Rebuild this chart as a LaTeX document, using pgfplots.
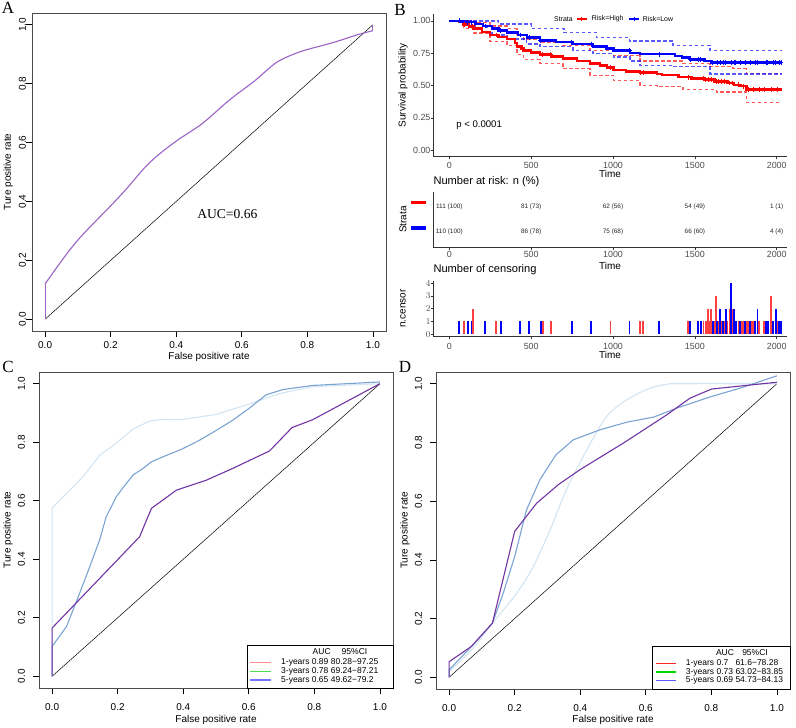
\documentclass[border=0pt]{standalone}
\usepackage{fontspec}
\setmainfont{Liberation Sans}
\newfontfamily\seriffont{Liberation Serif}
\usepackage{pgfplots}
\pgfplotsset{compat=1.18}

\definecolor{rocA}{HTML}{9A62C6}
\definecolor{rocpurple}{HTML}{7234A4}
\definecolor{rocblue}{HTML}{7AA3D3}
\definecolor{rocpale}{HTML}{D3E4F2}
\definecolor{kmred}{HTML}{FF0000}
\definecolor{kmblue}{HTML}{0000FF}
\definecolor{gg}{HTML}{4D4D4D}

\pgfplotsset{
  rocaxis/.style={
    anchor=south west, scale only axis, width=354bp,
    xmin=-0.04, xmax=1.04, ymin=-0.04, ymax=1.04,
    xtick={0,0.2,0.4,0.6,0.8,1}, ytick={0,0.2,0.4,0.6,0.8,1},
    xticklabels={0.0,0.2,0.4,0.6,0.8,1.0}, yticklabels={0.0,0.2,0.4,0.6,0.8,1.0},
    xtick pos=left, ytick pos=left, tick align=outside, major tick length=6bp,
    tick style={black, line width=0.6bp},
    axis line style={black!70, line width=0.7bp},
    ticklabel style={font=\fontsize{10bp}{12bp}\selectfont, inner sep=0pt},
    label style={font=\fontsize{10bp}{12bp}\selectfont, inner sep=0pt},
    xlabel={False positive rate}, ylabel={Ture positive rate},
  },
  kmaxis/.style={
    anchor=south west, scale only axis, width=353.4bp, xmin=-98, xmax=2061,
    axis x line*=bottom, axis y line*=left, xtick pos=left, ytick pos=left,
    tick align=outside, major tick length=2.7bp,
    tick style={black!80, line width=0.6bp},
    axis line style={black!80, line width=0.8bp},
    xtick={0,500,1000,1500,2000}, xticklabels={0,500,1000,1500,2000},
    ticklabel style={font=\fontsize{8.9bp}{10bp}\selectfont, text=gg, inner sep=0pt},
    yticklabel style={anchor=east, xshift=0bp},
    label style={font=\fontsize{10bp}{12bp}\selectfont, inner sep=0pt},
    xlabel=Time,
    ylabel style={at={(axis description cs:-0.0857,0.5)}, anchor=center},
  },
}

\begin{document}
\begin{tikzpicture}[x=1bp,y=1bp]
\path[use as bounding box] (0,0) rectangle (796,728);

% ---------- A ----------
\begin{axis}[rocaxis, at={(32bp,397bp)}, height=318bp,
  xticklabel style={anchor=center, yshift=-8bp},
  yticklabel style={xshift=-3.5bp, rotate=90, anchor=center},
  xlabel style={at={(axis description cs:0.5,0)}, anchor=center, yshift=-26bp},
  ylabel style={at={(axis description cs:-0.067,0.5)}, anchor=center}]
\addplot[black, line width=0.5bp] coordinates {(0,0) (1,1)};
\addplot[rocA, line width=1.1bp] coordinates {(0,0) (0,0.12)};
\addplot[rocA, line width=1.1bp, smooth] coordinates {
  (0,0.12) (0.066,0.222) (0.117,0.29) (0.2,0.385) (0.25,0.445) (0.3,0.51)
  (0.34,0.553) (0.4,0.605) (0.48,0.665) (0.564,0.746) (0.64,0.81) (0.706,0.872)
  (0.777,0.908) (0.88,0.94) (0.95,0.965) (1,0.98)};
\addplot[rocA, line width=1.1bp] coordinates {(1,0.98) (1,1)};
\node[font=\seriffont\fontsize{13.6bp}{15bp}\selectfont] at (axis cs:0.556,0.356) {AUC=0.66};
\end{axis}

% ---------- B: survival ----------
\begin{axis}[kmaxis, at={(433.3bp,571.3bp)}, height=142.3bp,
  ymin=-0.05, ymax=1.05,
  ytick={0,0.25,0.5,0.75,1}, yticklabels={0.00,0.25,0.50,0.75,1.00},
  xticklabel style={anchor=center, yshift=-6.3bp},
  xlabel style={at={(axis description cs:0.5,0)}, anchor=center, yshift=-17.5bp},
  ylabel={Survival probability}]
% confidence bands
\addplot[kmred, const plot, line width=1.3bp, dash pattern=on 3.5bp off 2.5bp, opacity=0.65] coordinates {
  (0,1) (85,1) (146,0.985) (248,0.96) (352,0.94) (413,0.89) (452,0.86) (554,0.83)
  (695,0.81) (860,0.77) (1003,0.73) (1164,0.69) (1428,0.67) (1592,0.645) (1733,0.63)
  (1815,0.595) (2030,0.595)};
\addplot[kmred, const plot, line width=1.3bp, dash pattern=on 3.5bp off 2.5bp, opacity=0.65] coordinates {
  (0,1) (85,0.94) (146,0.905) (248,0.84) (352,0.81) (413,0.74) (452,0.70) (554,0.67)
  (695,0.63) (860,0.58) (1003,0.54) (1164,0.50) (1270,0.49) (1428,0.47) (1633,0.45)
  (1815,0.37) (2030,0.37)};
\addplot[kmblue, const plot, line width=1.3bp, dash pattern=on 3.5bp off 2.5bp, opacity=0.65] coordinates {
  (0,1) (200,1) (300,0.975) (500,0.94) (700,0.91) (900,0.87) (1100,0.845) (1366,0.81)
  (1592,0.773) (2030,0.773)};
\addplot[kmblue, const plot, line width=1.3bp, dash pattern=on 3.5bp off 2.5bp, opacity=0.65] coordinates {
  (0,1) (60,0.985) (160,0.95) (260,0.89) (352,0.86) (473,0.82) (554,0.80) (756,0.77)
  (878,0.745) (1003,0.72) (1103,0.69) (1164,0.657) (1366,0.645) (1592,0.588) (2030,0.588)};
% survival curves
\addplot[kmred, const plot, line width=2.5bp] coordinates {
  (0,1) (60,0.99) (85,0.97) (120,0.955) (146,0.94) (200,0.915) (248,0.89) (300,0.875)
  (352,0.86) (400,0.83) (413,0.80) (440,0.785) (452,0.77) (500,0.755) (554,0.74)
  (620,0.725) (695,0.71) (780,0.69) (860,0.67) (920,0.655) (963,0.64) (1003,0.62)
  (1080,0.61) (1164,0.60) (1270,0.59) (1300,0.58) (1400,0.565) (1480,0.555) (1560,0.545)
  (1620,0.53) (1700,0.52) (1740,0.505) (1780,0.495) (1815,0.47) (2030,0.47)};
\addplot[kmblue, const plot, line width=2.5bp] coordinates {
  (0,1) (70,0.995) (107,0.99) (160,0.975) (205,0.96) (260,0.94) (300,0.925) (352,0.91)
  (420,0.89) (473,0.87) (554,0.85) (650,0.835) (756,0.82) (878,0.80) (960,0.785)
  (1003,0.77) (1103,0.75) (1164,0.742) (1380,0.73) (1420,0.715) (1470,0.70) (1560,0.69)
  (1600,0.678) (2030,0.678)};
% censor marks
\addplot[only marks, mark=+, mark size=2.4bp, kmred, line width=0.9bp] coordinates {
  (90,0.97) (143,0.955) (285,0.89) (570,0.74) (619,0.74) (984,0.64) (1165,0.60) (1185,0.60)
  (1460,0.565) (1552,0.555) (1566,0.545) (1582,0.545) (1599,0.545) (1629,0.53) (1646,0.53)
  (1664,0.53) (1680,0.53) (1711,0.52) (1731,0.52) (1766,0.505) (1796,0.495) (1827,0.47)
  (1857,0.47) (1892,0.47) (1922,0.47) (1965,0.47) (2004,0.47)};
\addplot[only marks, mark=+, mark size=2.4bp, kmblue, line width=0.9bp] coordinates {
  (59,1.0) (112,0.99) (135,0.99) (218,0.96) (314,0.925) (432,0.89) (489,0.87) (558,0.85)
  (748,0.835) (866,0.82) (1100,0.77) (1283,0.742) (1470,0.70) (1521,0.70) (1536,0.70)
  (1609,0.678) (1637,0.678) (1654,0.678) (1674,0.678) (1688,0.678) (1723,0.678) (1741,0.678)
  (1750,0.678) (1776,0.678) (1806,0.678) (1837,0.678) (1869,0.678) (1882,0.678) (1935,0.678)
  (1945,0.678) (1979,0.678) (1994,0.678) (2016,0.678) (2026,0.678)};
\node[anchor=west, inner sep=0pt, font=\fontsize{9.6bp}{11bp}\selectfont] at (axis cs:41,0.19) {p < 0.0001};
\end{axis}

% ---------- B: number at risk ----------
\begin{axis}[kmaxis, at={(433.3bp,480.7bp)}, height=55.6bp,
  ymin=0.4, ymax=2.6, ytick={1,2},
  yticklabels={\textcolor{kmblue}{\rule{15bp}{3.3bp}}, \textcolor{kmred}{\rule{15bp}{3.3bp}}},
  ytick style={draw=none},
  yticklabel style={anchor=east, xshift=-4.5bp, yshift=4bp},
  xticklabel style={anchor=center, yshift=-4.3bp},
  xlabel style={at={(axis description cs:0.5,0)}, anchor=center, yshift=-18.4bp},
  ylabel={Strata}]
\begin{scope}[every node/.style={font=\fontsize{6.4bp}{7bp}\selectfont, text=black!85, inner sep=0pt}]
\node at (axis cs:0,2) {111 (100)};
\node at (axis cs:500,2) {81 (73)};
\node at (axis cs:1000,2) {62 (56)};
\node at (axis cs:1500,2) {54 (49)};
\node at (axis cs:2000,2) {1 (1)};
\node at (axis cs:0,1) {110 (100)};
\node at (axis cs:500,1) {86 (78)};
\node at (axis cs:1000,1) {75 (68)};
\node at (axis cs:1500,1) {66 (60)};
\node at (axis cs:2000,1) {4 (4)};
\end{scope}
\end{axis}

% ---------- B: number of censoring ----------
\begin{axis}[kmaxis, at={(433.3bp,391.3bp)}, height=56.1bp,
  ymin=-0.2, ymax=4.2, ytick={0,1,2,3,4},
  xticklabel style={anchor=center, yshift=-6.6bp},
  xlabel style={at={(axis description cs:0.5,0)}, anchor=center, yshift=-18.4bp},
  ylabel={n.censor}]
\addplot[ycomb, kmred, line width=1.8bp, opacity=0.75] coordinates {
  (90,1) (143,2) (285,1) (570,1) (619,1) (984,1) (1165,1) (1185,1) (1460,1) (1552,1)
  (1566,1) (1582,2) (1593,1) (1599,2) (1617,1) (1629,3) (1646,1) (1664,1) (1680,1) (1698,1)
  (1711,2) (1731,2) (1766,1) (1786,1) (1796,1) (1817,1) (1827,1) (1847,1) (1857,1) (1892,1)
  (1922,1) (1965,3) (2004,1)};
\addplot[ycomb, kmblue, line width=1.8bp] coordinates {
  (59,1) (112,1) (135,1) (218,1) (314,1) (432,1) (489,1) (558,1) (748,1) (866,1) (1100,1)
  (1283,1) (1470,1) (1521,1) (1536,1) (1609,1) (1637,1) (1654,2) (1674,1) (1688,2) (1723,4)
  (1741,2) (1750,1) (1776,1) (1806,1) (1837,1) (1869,1) (1882,2) (1935,1) (1945,1) (1979,1)
  (1994,2) (2016,1) (2026,1)};
\end{axis}

% ---------- C ----------
\begin{axis}[rocaxis, at={(39bp,40bp)}, height=316bp,
  xticklabel style={anchor=center, yshift=-13.5bp},
  yticklabel style={xshift=-11.6bp, rotate=90, anchor=center},
  xlabel style={at={(axis description cs:0.5,0)}, anchor=center, yshift=-31.7bp},
  ylabel style={at={(axis description cs:-0.0876,0.5)}, anchor=center}]
\addplot[black, line width=0.5bp] coordinates {(0,0) (1,1)};
\addplot[rocpale, line width=1.1bp] coordinates {
  (0,0) (0,0.575) (0.044,0.625) (0.094,0.682) (0.145,0.755) (0.196,0.797) (0.247,0.845)
  (0.297,0.872) (0.33,0.877) (0.4,0.878) (0.5,0.895) (0.6,0.93) (0.693,0.966) (0.795,0.99) (1,1.0)};
\addplot[rocblue, line width=1.1bp] coordinates {
  (0,0) (0,0.102) (0.044,0.17) (0.084,0.284) (0.115,0.375) (0.145,0.466) (0.165,0.545)
  (0.196,0.614) (0.22,0.65) (0.247,0.688) (0.277,0.71) (0.303,0.733) (0.338,0.75) (0.399,0.778)
  (0.45,0.807) (0.5,0.84) (0.551,0.875) (0.6,0.915) (0.653,0.962) (0.704,0.98) (0.795,0.994) (1,1.006)};
\addplot[rocpurple, line width=1.1bp] coordinates {
  (0,0) (0,0.165) (0.267,0.477) (0.303,0.574) (0.379,0.636) (0.47,0.67) (0.55,0.71)
  (0.663,0.77) (0.732,0.85) (0.795,0.877) (1,1)};
\end{axis}

% ---------- D ----------
\begin{axis}[rocaxis, at={(436bp,39bp)}, height=317bp,
  xticklabel style={anchor=center, yshift=-13bp},
  yticklabel style={xshift=-11.7bp, rotate=90, anchor=center},
  xlabel style={at={(axis description cs:0.5,0)}, anchor=center, yshift=-31.4bp},
  ylabel style={at={(axis description cs:-0.0876,0.5)}, anchor=center}]
\addplot[black, line width=0.5bp] coordinates {(0,0) (1,1)};
\addplot[rocpale, line width=1.1bp, smooth] coordinates {
  (0,0.02) (0.068,0.093) (0.132,0.184) (0.206,0.286) (0.257,0.377) (0.308,0.502)
  (0.358,0.639) (0.42,0.775) (0.481,0.889) (0.542,0.945) (0.613,0.985) (0.664,0.998)
  (0.7,1.0) (1,1.0)};
\addplot[rocpale, line width=1.1bp] coordinates {(0,0) (0,0.02)};
\addplot[rocblue, line width=1.1bp] coordinates {
  (0,0) (0,0.025) (0.068,0.105) (0.132,0.184) (0.165,0.286) (0.2,0.411) (0.236,0.57)
  (0.277,0.673) (0.326,0.758) (0.379,0.809) (0.46,0.843) (0.542,0.869) (0.623,0.886)
  (0.695,0.917) (0.796,0.955) (0.888,0.985) (1,1.027)};
\addplot[rocpurple, line width=1.1bp] coordinates {
  (0,0) (0,0.053) (0.068,0.105) (0.132,0.184) (0.2,0.497) (0.267,0.593) (0.333,0.656)
  (0.399,0.707) (0.532,0.798) (0.664,0.894) (0.735,0.951) (0.801,0.982) (1,1.005)};
\end{axis}

% ---------- panel letters ----------
\begin{scope}[every node/.style={font=\seriffont\fontsize{17bp}{18bp}\selectfont, inner sep=0pt}]
\node at (8,720) {A};
\node at (400,718) {B};
\node at (8,361) {C};
\node at (405,361) {D};
\end{scope}

% ---------- B titles and legend ----------
\node[anchor=west, inner sep=0pt, font=\fontsize{11.1bp}{12bp}\selectfont] at (433.3,546) {Number at risk: n (\%)};
\node[anchor=west, inner sep=0pt, font=\fontsize{11.1bp}{12bp}\selectfont] at (433.3,458) {Number of censoring};
\begin{scope}[every node/.style={font=\fontsize{6.9bp}{8bp}\selectfont, inner sep=0pt, anchor=west}]
\node at (554,709) {Strata};
\draw[kmred, line width=1.8bp] (576.7,709) -- (586.7,709);
\draw[kmred, line width=0.9bp] (579.3,709) -- (584.1,709) (581.7,706.6) -- (581.7,711.4);
\node at (591.7,709) {Risk=High};
\draw[kmblue, line width=1.8bp] (629.3,709) -- (639.3,709);
\draw[kmblue, line width=0.9bp] (631.9,709) -- (636.7,709) (634.3,706.6) -- (634.3,711.4);
\node at (642.7,709) {Risk=Low};
\end{scope}

% ---------- C legend ----------
\draw[black, line width=0.6bp] (247.3,40) rectangle (393,82.5);
\begin{scope}[every node/.style={font=\fontsize{8.5bp}{9bp}\selectfont, inner sep=0pt}]
\node at (321.7,76.3) {AUC};
\node at (354.5,76.3) {95\%CI};
\draw[red!45, line width=1.1bp] (250,65.3) -- (270.7,65.3);
\draw[green!80!black!70!white, line width=1.1bp] (250,56.7) -- (270.7,56.7);
\draw[blue!55, line width=1.1bp] (250,48) -- (270.7,48);
\node[anchor=west] at (281,65.3) {1-years 0.89 80.28−97.25};
\node[anchor=west] at (281,56.7) {3-years 0.78 69.24−87.21};
\node[anchor=west] at (281,48) {5-years 0.65 49.62−79.2};
\end{scope}

% ---------- D legend ----------
\draw[black, line width=0.6bp] (652.7,38.7) rectangle (790,82);
\begin{scope}[every node/.style={font=\fontsize{8.5bp}{9bp}\selectfont, inner sep=0pt}]
\node at (725,75.8) {AUC};
\node at (755,75.8) {95\%CI};
\draw[red!85, line width=1.1bp] (656,64.7) -- (676,64.7);
\draw[green!85!black, line width=1.1bp] (656,56) -- (676,56);
\draw[blue!65, line width=1.1bp] (656,47.3) -- (676,47.3);
\node[anchor=west] at (685.7,64.7) {1-years 0.7\phantom{3} 61.6−78.28};
\node[anchor=west] at (685.7,56) {3-years 0.73 63.02−83.85};
\node[anchor=west] at (685.7,47.3) {5-years 0.69 54.73−84.13};
\end{scope}
\end{tikzpicture}
\end{document}
